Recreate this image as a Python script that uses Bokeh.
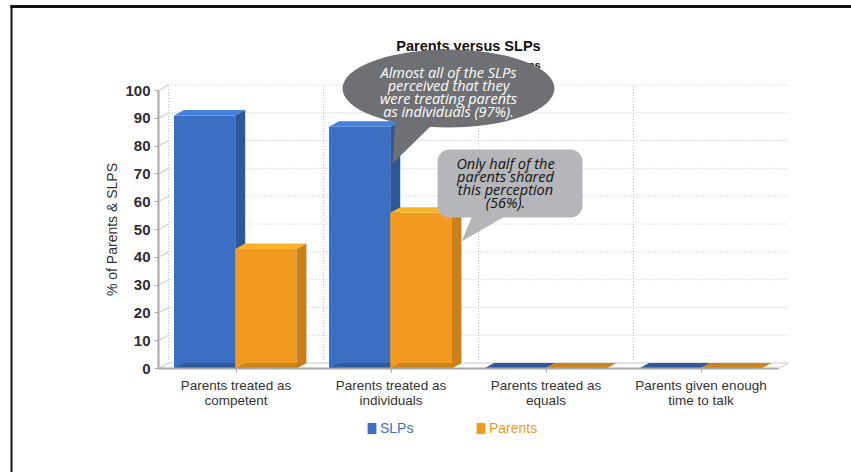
import numpy as np
from bokeh.plotting import figure
from bokeh.models import FixedTicker, Legend, LegendItem, Range1d
from bokeh.core.properties import value
from bokeh.embed import file_html
from bokeh.resources import INLINE

# ---------------- data ----------------
categories = ["Parents treated as\ncompetent", "Parents treated as\nindividuals",
              "Parents treated as\nequals", "Parents given enough\ntime to talk"]
series_names = ["SLPs", "Parents"]
slps_values = [91, 87, 0, 0]
parents_values = [43, 56, 0, 0]
y_ticks = [0, 10, 20, 30, 40, 50, 60, 70, 80, 90, 100]
title_text = "Parents versus SLPs"
subtitle_text = "Perceptions of interactions"
y_label = "% of Parents & SLPS"
callout1_lines = ["Almost all of the SLPs", "perceived that they",
                  "were treating parents", "as individuals (97%)."]
callout2_lines = ["Only half of the", "parents shared", "this perception", "(56%)."]

# ---------------- geometry ----------------
CW, CH = 851, 472
PXU, PYU = 155.0, 2.78
OX, OY = 158.0, 368.0          # reference pixel of data origin


def X(px):
    return (px - OX) / PXU


def Y(py):
    return (OY - py) / PYU


DX = 10 / PXU
DY = 5.5 / PYU
BW = 0.395

colors = {
    "SLPs": dict(front="#3a6fc3", side="#2d5798", top="#4680da", floor="#30599c", text="#3a6fc3"),
    "Parents": dict(front="#f39a20", side="#c9801b", top="#fbb42a", floor="#cc841c", text="#f39a20"),
}

p = figure(width=CW, height=CH, output_backend="svg", toolbar_location=None,
           x_range=Range1d(X(0), X(CW)), y_range=Range1d(Y(CH), Y(0)),
           min_border_left=0, min_border_bottom=0, min_border_top=0, min_border_right=0,
           background_fill_color="white", border_fill_color="white")
p.outline_line_color = None
p.xgrid.visible = False
p.ygrid.visible = False

# page frame lines (slide border)
p.quad(left=[X(10), X(10)], right=[X(12), X(CW + 5)], bottom=[Y(CH + 5), Y(7.5)], top=[Y(4.5), Y(4.5)],
       fill_color="#111111", line_color=None)

ncat = len(categories)
grid_col = "#c4c4c4"
gt = [t for t in y_ticks if t > 0]
p.segment(x0=[DX] * len(gt), x1=[ncat + DX] * len(gt), y0=[t + DY for t in gt], y1=[t + DY for t in gt],
          line_color=grid_col, line_dash="1 2", line_width=1)
vb = list(range(ncat))
p.segment(x0=[b + DX for b in vb], x1=[b + DX for b in vb], y0=[DY] * len(vb), y1=[max(y_ticks) + DY] * len(vb),
          line_color=grid_col, line_dash="1 2", line_width=1)
p.segment(x0=[0] * len(y_ticks), x1=[DX] * len(y_ticks), y0=y_ticks, y1=[t + DY for t in y_ticks],
          line_color=grid_col, line_width=1)
p.patch([0, ncat, ncat + DX, DX], [0, 0, DY, DY], fill_color="white", line_color="#c8c8c8", line_width=1)

legend_renderers = {}
for s, (name, vals) in enumerate(zip(series_names, [slps_values, parents_values])):
    c = colors[name]
    x0 = [i + 0.1 + s * BW for i in range(ncat)]
    x1 = [v + BW for v in x0]
    pos = [k for k in range(ncat) if vals[k] > 0]
    fr = p.quad(left=[x0[k] for k in pos], right=[x1[k] for k in pos], bottom=[0] * len(pos),
                top=[vals[k] for k in pos], fill_color=c["front"], line_color=None)
    legend_renderers[name] = fr
    p.patches([[x0[k], x1[k], x1[k] + DX, x0[k] + DX] for k in range(ncat)],
              [[0, 0, DY, DY] for k in range(ncat)], fill_color=c["floor"], line_color=None)
    p.patches([[x1[k], x1[k] + DX, x1[k] + DX, x1[k]] for k in pos],
              [[0, DY, vals[k] + DY, vals[k]] for k in pos], fill_color=c["side"], line_color=None)
    p.patches([[x0[k], x0[k] + DX, x1[k] + DX, x1[k]] for k in pos],
              [[vals[k], vals[k] + DY, vals[k] + DY, vals[k]] for k in pos], fill_color=c["top"], line_color=None)

# axes, fixed at the data origin inside the frame
p.xaxis.fixed_location = 0
p.xaxis.ticker = FixedTicker(ticks=[i + 0.5 for i in range(ncat)])
p.xaxis.bounds = (0, ncat)
p.xaxis.major_label_overrides = {i + 0.5: categories[i] for i in range(ncat)}
p.xaxis.axis_line_color = "#a8a8a8"
p.xaxis.axis_line_width = 2
p.xaxis.major_tick_line_color = "#a8a8a8"
p.xaxis.major_tick_out = 4
p.xaxis.major_tick_in = 0
p.xaxis.minor_tick_line_color = None
p.xaxis.major_label_text_font = "Liberation Sans"
p.xaxis.major_label_text_font_size = "13.5px"
p.xaxis.major_label_text_color = "#333333"
p.xaxis.major_label_text_line_height = 1.05
p.xaxis.major_label_standoff = 5

p.yaxis.fixed_location = 0
p.yaxis.ticker = FixedTicker(ticks=y_ticks)
p.yaxis.bounds = (0, max(y_ticks))
p.yaxis.axis_line_color = "#a8a8a8"
p.yaxis.axis_line_width = 2
p.yaxis.major_tick_line_color = "#a8a8a8"
p.yaxis.major_tick_out = 4
p.yaxis.major_tick_in = 0
p.yaxis.minor_tick_line_color = None
p.yaxis.major_label_text_font = "Liberation Sans"
p.yaxis.major_label_text_font_size = "15px"
p.yaxis.major_label_text_font_style = "bold"
p.yaxis.major_label_text_color = "#2d2d38"
p.yaxis.major_label_standoff = 4
p.yaxis.axis_label = y_label
p.yaxis.axis_label_text_font = "Liberation Sans"
p.yaxis.axis_label_text_font_size = "14px"
p.yaxis.axis_label_text_font_style = "normal"
p.yaxis.axis_label_text_color = "#333333"
p.yaxis.axis_label_standoff = 2

# title and subtitle
p.text(x=[X(468)], y=[Y(45)], text=[title_text], text_align="center", text_baseline="middle",
       text_font=value("Liberation Sans"), text_font_style="bold", text_font_size="14.5px", text_color="#111111")
p.text(x=[X(540)], y=[Y(64)], text=[subtitle_text], text_align="right", text_baseline="middle",
       text_font=value("Liberation Sans"), text_font_style="bold", text_font_size="11px", text_color="#111111")

# callout 1 (ellipse)
p.ellipse(x=[X(448)], y=[Y(88)], width=[212 / PXU], height=[78 / PYU], fill_color="#6f7073", line_color=None)
p.patch([X(395), X(433), X(392)], [Y(116), Y(123), Y(163)], fill_color="#6f7073", line_color=None)
p.text(x=[X(448)] * 4, y=[Y(v) for v in [71.5, 84.5, 97.5, 110.5]], text=callout1_lines,
       text_align="center", text_baseline="middle", text_font=value("Open Sans"), text_font_style="italic",
       text_font_size="14.5px", text_color="white")

# callout 2 (rounded rect)
L, R, T, B, rad = 437, 582, 149, 217, 12
pts = []
for cx, cy, a0 in [(R - rad, T + rad, -90), (R - rad, B - rad, 0), (L + rad, B - rad, 90), (L + rad, T + rad, 180)]:
    for a in np.linspace(a0, a0 + 90, 8):
        pts.append((cx + rad * np.cos(np.radians(a)), cy + rad * np.sin(np.radians(a))))
p.patch([X(a) for a, b in pts], [Y(b) for a, b in pts], fill_color="#b5b6b9", line_color=None)
p.patch([X(472), X(506), X(461)], [Y(215), Y(215), Y(241)], fill_color="#b5b6b9", line_color=None)
p.text(x=[X(505)] * 4, y=[Y(v) for v in [163, 176, 189, 201.5]], text=callout2_lines,
       text_align="center", text_baseline="middle", text_font=value("Open Sans"), text_font_style="italic",
       text_font_size="14.5px", text_color="#111111")

# legends (one per series, so each label keeps its series colour)
leg_x = {"SLPs": 366, "Parents": 475}
for name in series_names:
    lg = Legend(items=[LegendItem(label=name, renderers=[legend_renderers[name]])],
                location=(leg_x[name], CH - 436), orientation="horizontal",
                padding=0, margin=0, spacing=0, glyph_width=11, glyph_height=14,
                label_height=14, label_standoff=3, label_text_font="Liberation Sans",
                label_text_font_size="14px", label_text_color=colors[name]["text"],
                background_fill_alpha=0, border_line_alpha=0)
    p.add_layout(lg)

open("out.html", "w").write(file_html(p, INLINE))
